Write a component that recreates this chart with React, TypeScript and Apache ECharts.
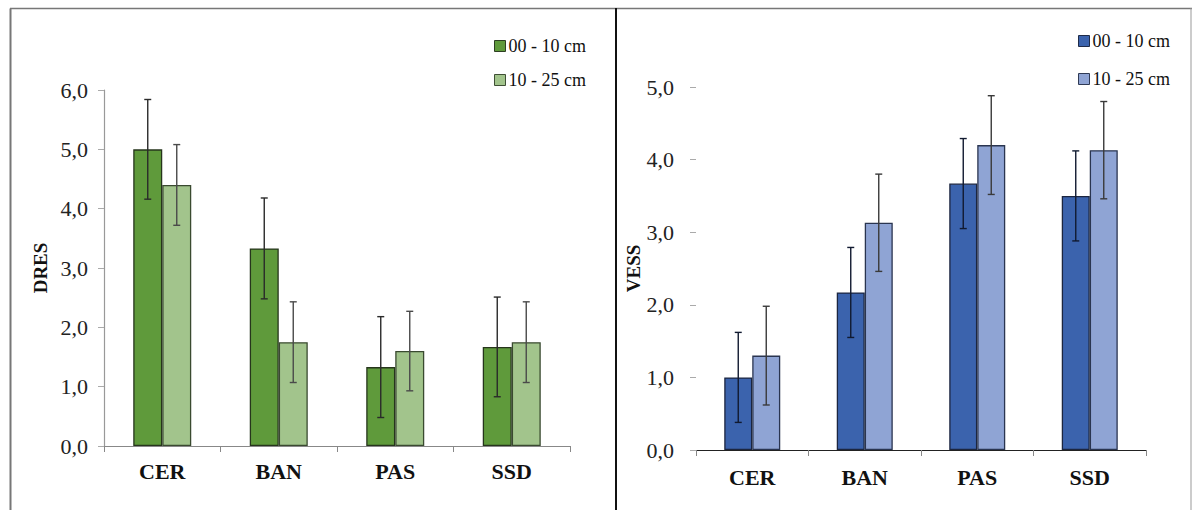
import React, { useEffect, useRef } from "react";
import * as echarts from "echarts";

const categories = ["CER", "BAN", "PAS", "SSD"];
const seriesNames = ["00 - 10 cm", "10 - 25 cm"];

const dresShallow = [5.0, 3.33, 1.33, 1.67];
const dresShallowErr = [0.84, 0.85, 0.85, 0.84];
const dresDeep = [4.4, 1.75, 1.6, 1.75];
const dresDeepErr = [0.68, 0.68, 0.67, 0.68];

const vessShallow = [1.0, 2.17, 3.67, 3.5];
const vessShallowErr = [0.62, 0.62, 0.62, 0.62];
const vessDeep = [1.3, 3.13, 4.2, 4.13];
const vessDeepErr = [0.68, 0.67, 0.68, 0.67];

const dresTicks = [0, 1, 2, 3, 4, 5, 6];
const vessTicks = [0, 1, 2, 3, 4, 5];

const FONT = "'Liberation Serif', 'Times New Roman', serif";
const FONT_B = "'Times New Roman', 'Liberation Serif', 'DejaVu Serif', serif";
const fmt = (v: number) => v.toFixed(1).replace(".", ",");

function errData(vals: number[], errs: number[]) {
  return vals.map((v, i) => [i, v - errs[i], v + errs[i]]);
}

function errSeries(
  name: string,
  xAxisIndex: number,
  vals: number[],
  errs: number[],
  side: number,
  barW: number,
  color: string
) {
  return {
    type: "custom",
    name: name + " err",
    xAxisIndex,
    yAxisIndex: xAxisIndex,
    silent: true,
    z: 5,
    data: errData(vals, errs),
    renderItem: (params: any, api: any) => {
      const x = api.value(0);
      const lo = api.coord([x, api.value(1)]);
      const hi = api.coord([x, api.value(2)]);
      const cx = lo[0] + (side * barW) / 2;
      const cap = 3.5;
      const style = { stroke: color, lineWidth: 1.4 };
      return {
        type: "group",
        children: [
          { type: "line", shape: { x1: cx, y1: lo[1], x2: cx, y2: hi[1] }, style },
          { type: "line", shape: { x1: cx - cap, y1: hi[1], x2: cx + cap, y2: hi[1] }, style },
          { type: "line", shape: { x1: cx - cap, y1: lo[1], x2: cx + cap, y2: lo[1] }, style },
        ],
      };
    },
  };
}

export default function App() {
  const ref = useRef<HTMLDivElement>(null);
  useEffect(() => {
    document.body.style.margin = "0";
    if (!ref.current) return;
    const chart = echarts.init(ref.current, null, { renderer: "svg" });

    const green1 = "#5f9a3b";
    const green2 = "#a2c48c";
    const blue1 = "#3b63ad";
    const blue2 = "#8fa4d4";
    const barWL = 29;
    const barWR = 28;

    const xCommon = (gridIndex: number, axisColor: string, margin: number) => ({
      type: "category",
      gridIndex,
      data: categories,
      axisLine: { show: true, lineStyle: { color: axisColor, width: 1.2 } },
      axisTick: { show: true, inside: false, length: 6, interval: 0, lineStyle: { color: "#888" } },
      axisLabel: {
        fontFamily: FONT_B,
        fontSize: 22,
        fontWeight: "bold",
        color: "#111",
        margin,
      },
    });

    const yCommon = (
      gridIndex: number,
      max: number,
      name: string,
      nameGap: number,
      showLine: boolean,
      labelMargin: number
    ) => ({
      type: "value",
      gridIndex,
      min: 0,
      max,
      interval: 1,
      name,
      nameLocation: "middle",
      nameRotate: 90,
      nameGap,
      nameTextStyle: { fontFamily: FONT_B, fontSize: 19, fontWeight: "bold", color: "#111" },
      splitLine: { show: false },
      axisLine: { show: showLine, lineStyle: { color: "#999", width: 1.2 } },
      axisTick: { show: true, length: 6, lineStyle: { color: "#aaa" } },
      axisLabel: {
        fontFamily: FONT,
        fontSize: 22,
        color: "#222",
        margin: labelMargin,
        formatter: (v: number) => fmt(v),
      },
    });

    const barStyle = (color: string, border: string) => ({
      color,
      borderColor: border,
      borderWidth: 1.3,
    });

    chart.setOption({
      animation: false,
      backgroundColor: "#fff",
      grid: [
        { left: 104, right: 1192 - 570, top: 90, bottom: 510 - 446 },
        { left: 696, right: 1192 - 1146, top: 87, bottom: 510 - 450 },
      ],
      xAxis: [xCommon(0, "#888", 14), xCommon(1, "#222", 16)],
      yAxis: [
        yCommon(0, dresTicks[dresTicks.length - 1], "DRES", 54, true, 16),
        yCommon(1, vessTicks[vessTicks.length - 1], "VESS", 50, false, 22),
      ],
      legend: [
        {
          left: 489,
          top: 32,
          orient: "vertical",
          itemWidth: 11,
          itemHeight: 11,
          itemGap: 16,
          icon: "rect",
          textStyle: { fontFamily: FONT, fontSize: 18, color: "#111", padding: [0, 0, 0, -2] },
          data: [
            { name: seriesNames[0], itemStyle: { color: green1, borderColor: "#2d3f22", borderWidth: 1 } },
            { name: seriesNames[1], itemStyle: { color: green2, borderColor: "#3f4f35", borderWidth: 1 } },
          ],
          selectedMode: false,
        },
        {
          left: 1073,
          top: 27,
          orient: "vertical",
          itemWidth: 11,
          itemHeight: 11,
          itemGap: 20,
          icon: "rect",
          textStyle: { fontFamily: FONT, fontSize: 18, color: "#111", padding: [0, 0, 0, -2] },
          data: [
            { name: seriesNames[0], itemStyle: { color: blue1, borderColor: "#1f2b48", borderWidth: 1 } },
            { name: seriesNames[1], itemStyle: { color: blue2, borderColor: "#2f3a55", borderWidth: 1 } },
          ],
          selectedMode: false,
        },
      ],
      graphic: [
        { type: "line", shape: { x1: 10.5, y1: 8.5, x2: 10.5, y2: 510 }, style: { stroke: "#777", lineWidth: 2 } },
        { type: "line", shape: { x1: 10, y1: 8.5, x2: 1192, y2: 8.5 }, style: { stroke: "#777", lineWidth: 1.5 } },
        { type: "line", shape: { x1: 616, y1: 8, x2: 616, y2: 510 }, style: { stroke: "#111", lineWidth: 2 } },
        { type: "line", shape: { x1: 1191, y1: 8, x2: 1191, y2: 510 }, style: { stroke: "#999", lineWidth: 1 } },
      ],
      series: [
        {
          type: "bar",
          name: seriesNames[0],
          xAxisIndex: 0,
          yAxisIndex: 0,
          data: dresShallow,
          barWidth: barWL,
          barGap: "0%",
          itemStyle: barStyle(green1, "#26351c"),
        },
        {
          type: "bar",
          name: seriesNames[1],
          xAxisIndex: 0,
          yAxisIndex: 0,
          data: dresDeep,
          barWidth: barWL,
          barGap: "0%",
          itemStyle: barStyle(green2, "#3a4a30"),
        },
        {
          type: "bar",
          name: seriesNames[0],
          xAxisIndex: 1,
          yAxisIndex: 1,
          data: vessShallow,
          barWidth: barWR,
          barGap: "0%",
          itemStyle: barStyle(blue1, "#1c2640"),
        },
        {
          type: "bar",
          name: seriesNames[1],
          xAxisIndex: 1,
          yAxisIndex: 1,
          data: vessDeep,
          barWidth: barWR,
          barGap: "0%",
          itemStyle: barStyle(blue2, "#2a3550"),
        },
        errSeries("dres0", 0, dresShallow, dresShallowErr, -1, barWL, "#2a2a2a"),
        errSeries("dres1", 0, dresDeep, dresDeepErr, 1, barWL, "#4a4a4a"),
        errSeries("vess0", 1, vessShallow, vessShallowErr, -1, barWR, "#111a30"),
        errSeries("vess1", 1, vessDeep, vessDeepErr, 1, barWR, "#3a3a3a"),
      ],
    });
    return () => chart.dispose();
  }, []);
  return <div ref={ref} style={{ width: 1192, height: 510 }} />;
}
